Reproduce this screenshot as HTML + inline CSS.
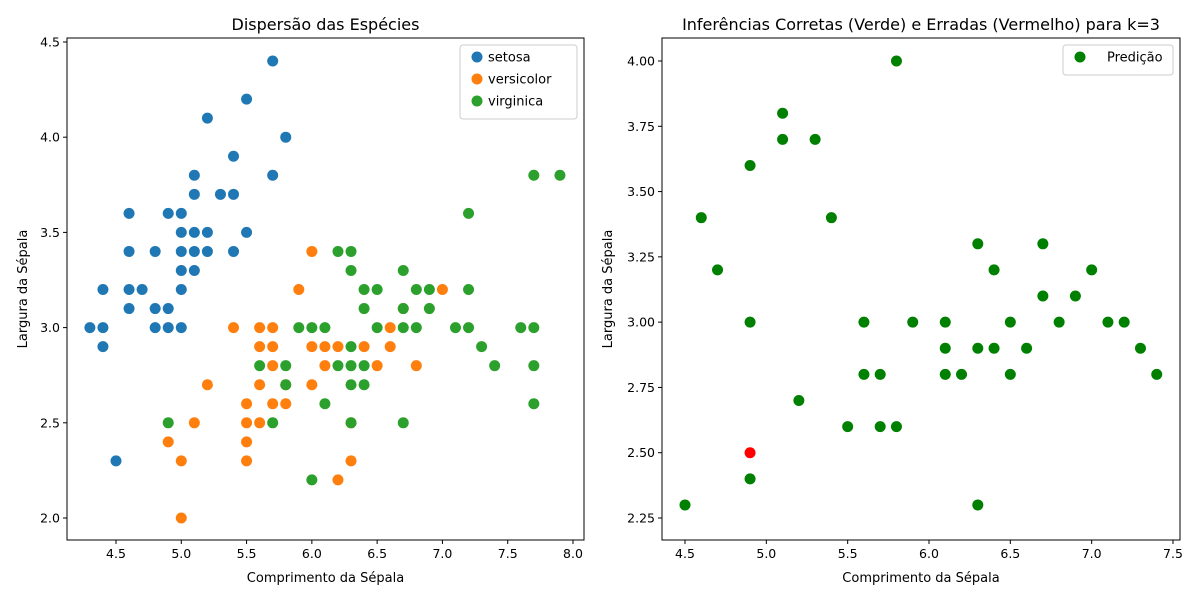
<!DOCTYPE html>
<html><head><meta charset="utf-8"><style>
body{margin:0;background:#fff}
svg{font-family:"DejaVu Sans","Liberation Sans",sans-serif;}
</style></head><body>
<svg id="c" width="1200" height="600"></svg>
<script>
const setosaX=[5.7,5.5,5.2,5.8,5.4,5.1,5.7,5.1,5.3,5.4,4.6,4.9,5.0,5.0,5.1,5.2,5.5,4.6,4.8,5.0,5.1,5.2,5.4,5.0,5.1,4.4,4.6,4.7,5.0,4.6,4.8,4.9,4.3,4.4,4.8,4.9,5.0,4.4,4.5];
const setosaY=[4.4,4.2,4.1,4.0,3.9,3.8,3.8,3.7,3.7,3.7,3.6,3.6,3.6,3.5,3.5,3.5,3.5,3.4,3.4,3.4,3.4,3.4,3.4,3.3,3.3,3.2,3.2,3.2,3.2,3.1,3.1,3.1,3.0,3.0,3.0,3.0,3.0,2.9,2.3];
const versiX=[6.0,5.9,7.0,6.7,5.4,5.6,5.7,6.6,5.6,5.7,6.0,6.1,6.2,6.4,6.6,5.7,6.1,6.5,6.8,5.2,5.6,5.8,6.0,5.5,5.7,5.8,5.1,5.5,5.6,6.3,4.9,5.5,5.0,5.5,6.3,6.2,5.0];
const versiY=[3.4,3.2,3.2,3.1,3.0,3.0,3.0,3.0,2.9,2.9,2.9,2.9,2.9,2.9,2.9,2.8,2.8,2.8,2.8,2.7,2.7,2.7,2.7,2.6,2.6,2.6,2.5,2.5,2.5,2.5,2.4,2.4,2.3,2.3,2.3,2.2,2.0];
const virgX=[7.7,7.9,7.2,6.2,6.3,6.3,6.7,6.4,6.5,6.8,6.9,7.2,6.4,6.7,6.9,5.9,6.0,6.1,6.5,6.7,6.8,7.1,7.2,7.6,7.7,7.3,6.3,5.6,5.8,6.2,6.3,6.4,7.4,7.7,5.8,6.3,6.4,6.1,7.7,4.9,5.7,6.3,6.7,6.0];
const virgY=[3.8,3.8,3.6,3.4,3.4,3.3,3.3,3.2,3.2,3.2,3.2,3.2,3.1,3.1,3.1,3.0,3.0,3.0,3.0,3.0,3.0,3.0,3.0,3.0,3.0,2.9,2.9,2.8,2.8,2.8,2.8,2.8,2.8,2.8,2.7,2.7,2.7,2.6,2.6,2.5,2.5,2.5,2.5,2.2];
const predX=[5.8,5.1,5.1,5.3,4.9,4.6,5.4,6.3,6.7,4.7,6.4,7.0,6.7,6.9,4.9,5.6,5.9,6.1,6.5,6.8,7.1,7.2,6.1,6.3,6.4,6.6,7.3,5.6,5.7,6.1,6.2,6.5,7.4,5.2,5.5,5.7,5.8,4.9,4.9,4.5,6.3];
const predY=[4.0,3.8,3.7,3.7,3.6,3.4,3.4,3.3,3.3,3.2,3.2,3.2,3.1,3.1,3.0,3.0,3.0,3.0,3.0,3.0,3.0,3.0,2.9,2.9,2.9,2.9,2.9,2.8,2.8,2.8,2.8,2.8,2.8,2.7,2.6,2.6,2.6,2.5,2.4,2.3,2.3];
const predOk=[1,1,1,1,1,1,1,1,1,1,1,1,1,1,1,1,1,1,1,1,1,1,1,1,1,1,1,1,1,1,1,1,1,1,1,1,1,0,1,1,1];
const lxTicks=[4.5,5.0,5.5,6.0,6.5,7.0,7.5,8.0], lyTicks=[2.0,2.5,3.0,3.5,4.0,4.5];
const rxTicks=[4.5,5.0,5.5,6.0,6.5,7.0,7.5], ryTicks=[2.25,2.5,2.75,3.0,3.25,3.5,3.75,4.0];

const S=document.getElementById('c'),NS='http://www.w3.org/2000/svg';
function el(t,a,p){const e=document.createElementNS(NS,t);for(const k in a)e.setAttribute(k,a[k]);(p||S).appendChild(e);return e;}
function txt(s,a,p){const e=el('text',a,p);e.textContent=s;return e;}

function panel(o){
  const g=el('g',{});
  
  
  const sx=v=>o.px0+(v-o.x0)*o.kx, sy=v=>o.py0-(v-o.y0)*o.ky;
  o.series.forEach(s=>{
    const sg=el('g',{},g);
    
    
    s.xs.forEach((x,i)=>{
      const c=el('circle',{cx:sx(x),cy:sy(s.ys[i]),r:5.5,fill:s.colorFn?s.colorFn(i):s.color},sg);
      
      
    });
  });
  const f=el('rect',{x:o.L,y:o.T,width:o.R-o.L,height:o.B-o.T,fill:'none',stroke:'#000','stroke-width':1},g);
  
  
  o.xt.forEach(v=>{const x=sx(v);el('line',{x1:x,x2:x,y1:o.B,y2:o.B+4,stroke:'#000'},g);
    const t=txt(v.toFixed(1),{x:x,y:o.B+18,'text-anchor':'middle','font-size':12.5},g);
    });
  o.yt.forEach(v=>{const y=sy(v);el('line',{x1:o.L-4,x2:o.L,y1:y,y2:y,stroke:'#000'},g);
    const t=txt(v.toFixed(o.yd),{x:o.L-7,y:y+4.5,'text-anchor':'end','font-size':12.5},g);
    });
  let t=txt(o.title,{x:(o.L+o.R)/2,y:30,'text-anchor':'middle','font-size':16},g);
  
  t=txt('Comprimento da Sépala',{x:(o.L+o.R)/2,y:582,'text-anchor':'middle','font-size':13},g);
  
  t=txt('Largura da Sépala',{x:0,y:0,'text-anchor':'middle','font-size':13,transform:`translate(${o.yl},${(o.T+o.B)/2}) rotate(-90)`},g);
  
  const lg=el('g',{},g);
  
  
  el('rect',{x:o.lgx,y:45,width:o.lgw,height:8+o.leg.length*22,rx:3,fill:'#fff','fill-opacity':0.8,stroke:'#ccc'},lg);
  o.leg.forEach((l,i)=>{const y=57+i*22;
    el('circle',{cx:o.lgx+17,cy:y,r:5.5,fill:l[1]},lg);
    const tt=txt(l[0],{x:o.lgx+o.lgt,y:y+4.5,'font-size':13,'text-anchor':o.lgt<0?'end':'start'},lg);
    });
}
panel({name:'species-scatter',L:67,R:584,T:38,B:540,x0:4.5,px0:116,kx:(573-116)/3.5,y0:2.0,py0:518,ky:(518-42)/2.5,
  xt:lxTicks,yt:lyTicks,yd:1,title:'Dispersão das Espécies',yl:27,lgx:460,lgw:117,lgt:28,
  leg:[['setosa','#1f77b4'],['versicolor','#ff7f0e'],['virginica','#2ca02c']],
  series:[{name:'setosa',xs:setosaX,ys:setosaY,color:'#1f77b4'},{name:'versicolor',xs:versiX,ys:versiY,color:'#ff7f0e'},{name:'virginica',xs:virgX,ys:virgY,color:'#2ca02c'}]});
panel({name:'prediction-scatter',L:662,R:1180,T:38,B:540,x0:4.5,px0:685,kx:(1173-685)/3,y0:2.25,py0:518,ky:(518-61)/1.75,
  xt:rxTicks,yt:ryTicks,yd:2,title:'Inferências Corretas (Verde) e Erradas (Vermelho) para k=3',yl:612,lgx:1063,lgw:110,lgt:44,
  leg:[['Predição','#008000']],
  series:[{name:'prediction',xs:predX,ys:predY,colorFn:i=>predOk[i]?'#008000':'#ff0000'}]});
</script>
</body></html>
